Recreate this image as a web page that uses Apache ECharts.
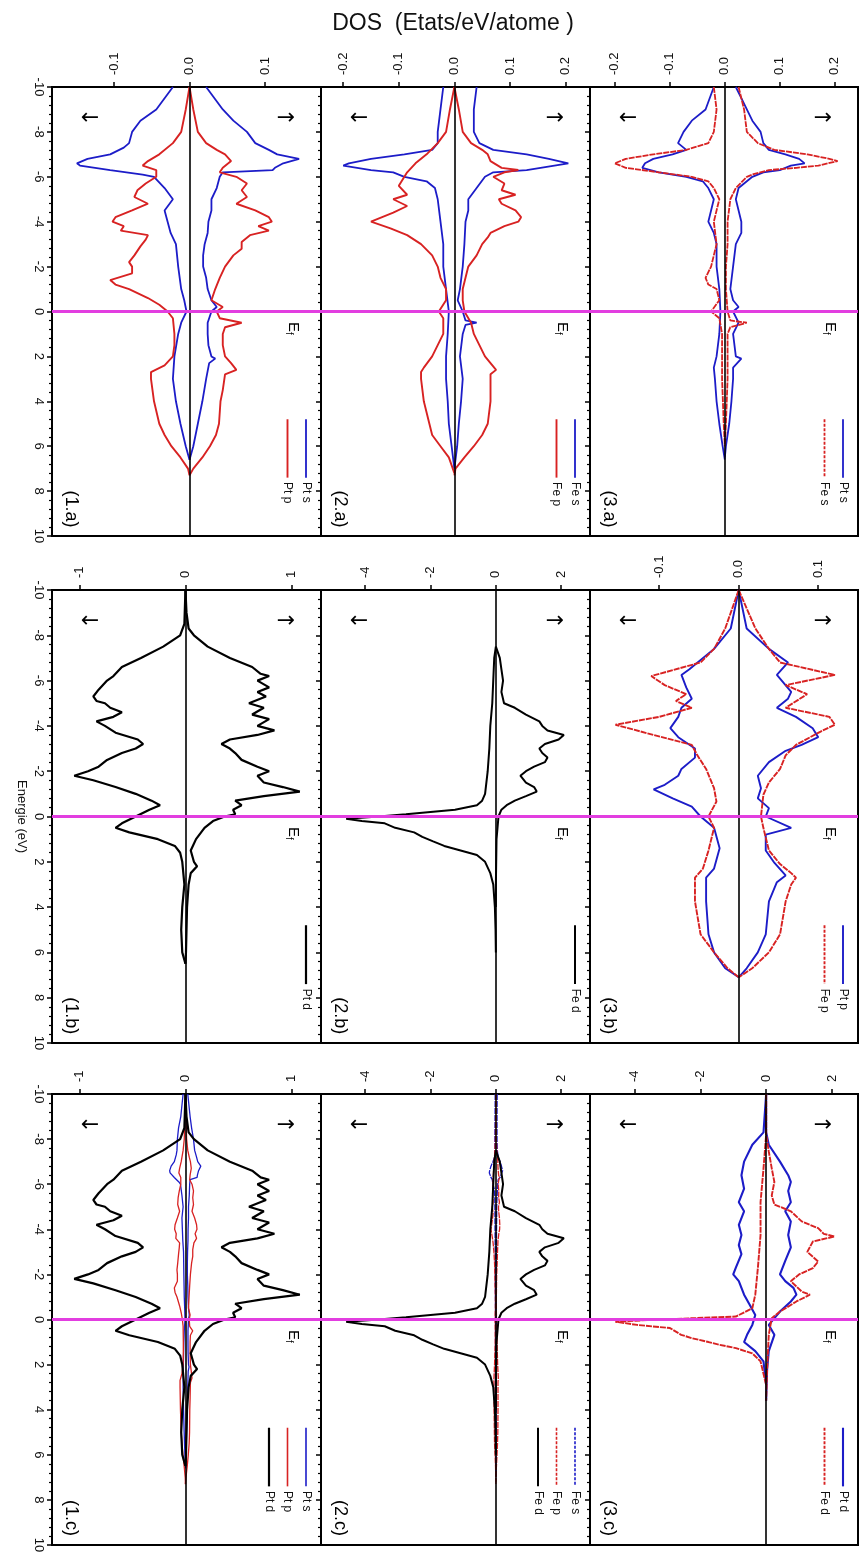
<!DOCTYPE html>
<html><head><meta charset="utf-8">
<script src="https://cdn.jsdelivr.net/npm/echarts@6/dist/echarts.min.js"></script>
<style>html,body{margin:0;padding:0;background:#fff}#c{width:861px;height:1556px}</style>
</head><body><div id="c"></div>
<script>
// ---------------- DATA: [energy (eV), DOS] pairs ----------------
// Panel 1 : Pt
const PT1_S_UP = [[-10,0.022],[-9,0.044],[-8.5,0.058],[-8,0.076],[-7.5,0.087],[-7.2,0.105],[-7,0.116],[-6.8,0.145],[-6.6,0.124],[-6.4,0.113],[-6.3,0.11],[-6.2,0.044],[-6,0.04],[-5.5,0.036],[-5,0.029],[-4.5,0.029],[-4,0.025],[-3.5,0.024],[-3,0.02],[-2.5,0.018],[-2,0.018],[-1.5,0.022],[-1,0.024],[-0.5,0.029],[-0.2,0.036],[0,0.029],[0.5,0.024],[1,0.024],[1.5,0.025],[2,0.029],[2.1,0.034],[2.3,0.026],[3,0.022],[4,0.017],[5,0.011],[6,0.005],[6.6,0]];
const PT1_S_DN = [[-10,-0.022],[-9,-0.044],[-8.5,-0.065],[-8,-0.076],[-7.5,-0.08],[-7.3,-0.087],[-7,-0.105],[-6.8,-0.135],[-6.6,-0.149],[-6.5,-0.145],[-6.3,-0.105],[-6.1,-0.062],[-6,-0.047],[-5.5,-0.033],[-5,-0.022],[-4.5,-0.033],[-4,-0.029],[-3.5,-0.025],[-3,-0.018],[-2,-0.015],[-1,-0.011],[-0.5,-0.007],[0,-0.004],[0.5,-0.011],[1,-0.015],[2,-0.02],[3,-0.022],[4,-0.018],[5,-0.012],[6,-0.005],[6.6,0]];
const PT1_P_UP = [[-10,0],[-9,0.005],[-8,0.011],[-7.5,0.022],[-7.2,0.036],[-7,0.047],[-6.7,0.055],[-6.4,0.044],[-6.2,0.04],[-6,0.062],[-5.7,0.076],[-5.4,0.069],[-5.1,0.076],[-4.8,0.062],[-4.5,0.087],[-4.2,0.105],[-4,0.109],[-3.8,0.091],[-3.6,0.105],[-3.4,0.08],[-3.1,0.069],[-2.8,0.069],[-2.5,0.058],[-2,0.047],[-1.5,0.04],[-1,0.034],[-0.5,0.029],[-0.2,0.044],[0,0.036],[0.3,0.04],[0.5,0.069],[0.7,0.047],[1,0.044],[1.5,0.044],[2,0.047],[2.3,0.055],[2.6,0.062],[2.8,0.047],[3.5,0.044],[4,0.041],[5,0.039],[5.5,0.035],[6,0.027],[6.5,0.017],[7,0.005],[7.3,0]];
const PT1_P_DN = [[-10,0],[-9,-0.005],[-8,-0.011],[-7.5,-0.022],[-7,-0.04],[-6.7,-0.055],[-6.5,-0.062],[-6.3,-0.044],[-6,-0.044],[-5.7,-0.058],[-5.4,-0.069],[-5.1,-0.073],[-4.8,-0.055],[-4.5,-0.076],[-4.2,-0.098],[-4,-0.102],[-3.8,-0.087],[-3.6,-0.091],[-3.4,-0.055],[-3.2,-0.058],[-2.9,-0.065],[-2.5,-0.073],[-2.2,-0.08],[-2,-0.076],[-1.7,-0.076],[-1.4,-0.105],[-1.2,-0.098],[-1,-0.08],[-0.6,-0.055],[-0.3,-0.04],[0,-0.029],[0.3,-0.022],[1,-0.02],[1.5,-0.02],[2,-0.022],[2.4,-0.033],[2.7,-0.051],[3,-0.051],[4,-0.047],[5,-0.04],[5.5,-0.033],[6,-0.024],[6.5,-0.012],[7,-0.002],[7.3,0]];
const PT1_D_UP = [[-10,0],[-9,0.01],[-8.3,0.03],[-8,0.08],[-7.5,0.21],[-7,0.42],[-6.6,0.63],[-6.3,0.71],[-6.2,0.79],[-6,0.68],[-5.7,0.79],[-5.5,0.68],[-5.3,0.76],[-5,0.6],[-4.8,0.74],[-4.5,0.63],[-4.3,0.79],[-4,0.68],[-3.8,0.84],[-3.6,0.68],[-3.4,0.42],[-3.2,0.34],[-3,0.42],[-2.8,0.47],[-2.5,0.53],[-2.2,0.68],[-2,0.79],[-1.8,0.68],[-1.5,0.74],[-1.3,0.92],[-1.1,1.08],[-0.9,0.74],[-0.7,0.47],[-0.5,0.53],[-0.3,0.45],[-0.1,0.47],[0,0.37],[0.2,0.26],[0.5,0.18],[1,0.1],[1.5,0.05],[2,0.08],[2.2,0.11],[2.5,0.05],[3,0.03],[4,0.015],[5,0.01],[6,0.005],[6.5,0]];
const PT1_D_DN = [[-10,0],[-8.5,-0.01],[-8,-0.05],[-7.5,-0.21],[-7,-0.42],[-6.6,-0.6],[-6.2,-0.68],[-6,-0.74],[-5.6,-0.82],[-5.3,-0.87],[-5.1,-0.84],[-5,-0.76],[-4.8,-0.71],[-4.6,-0.6],[-4.4,-0.68],[-4.2,-0.84],[-4,-0.76],[-3.7,-0.66],[-3.4,-0.45],[-3.2,-0.4],[-3,-0.47],[-2.8,-0.6],[-2.5,-0.74],[-2.2,-0.82],[-2,-0.92],[-1.8,-1.05],[-1.6,-0.87],[-1.3,-0.66],[-1,-0.47],[-0.7,-0.32],[-0.5,-0.24],[-0.3,-0.34],[0,-0.47],[0.3,-0.6],[0.5,-0.66],[0.7,-0.53],[1,-0.26],[1.3,-0.1],[1.6,-0.05],[2,-0.03],[3,-0.01],[4,-0.03],[5,-0.04],[6,-0.03],[6.5,0]];
// Panel 2 : Fe
const FE2_S_UP = [[-10,0.04],[-9,0.035],[-8,0.035],[-7.5,0.045],[-7.2,0.07],[-7,0.13],[-6.8,0.17],[-6.6,0.205],[-6.5,0.18],[-6.3,0.13],[-6.2,0.07],[-6,0.055],[-5.5,0.04],[-5,0.025],[-4.5,0.025],[-4,0.02],[-3,0.018],[-2,0.015],[-1,0.01],[-0.5,0.006],[0,0.015],[0.4,0.02],[0.5,0.04],[0.6,0.02],[1,0.015],[2,0.01],[3,0.015],[4,0.012],[5,0.008],[6,0.005],[7,0]];
const FE2_S_DN = [[-10,-0.02],[-9,-0.025],[-8,-0.03],[-7.5,-0.03],[-7.2,-0.04],[-7,-0.09],[-6.8,-0.15],[-6.6,-0.19],[-6.5,-0.2],[-6.3,-0.15],[-6.2,-0.11],[-6,-0.09],[-5.8,-0.05],[-5.5,-0.035],[-5,-0.03],[-4,-0.025],[-3,-0.02],[-2,-0.02],[-1,-0.015],[0,-0.01],[1,-0.012],[2,-0.015],[3,-0.015],[4,-0.012],[5,-0.01],[6,-0.005],[7,0]];
const FE2_P_UP = [[-10,0],[-9,0.008],[-8,0.015],[-7.5,0.03],[-7.2,0.05],[-7,0.06],[-6.7,0.065],[-6.4,0.085],[-6.3,0.115],[-6.2,0.09],[-6,0.07],[-5.7,0.09],[-5.4,0.085],[-5.2,0.11],[-5,0.08],[-4.8,0.085],[-4.5,0.11],[-4.2,0.12],[-4,0.115],[-3.8,0.09],[-3.5,0.065],[-3.3,0.06],[-3,0.05],[-2.5,0.04],[-2,0.025],[-1.5,0.02],[-1,0.015],[-0.5,0.015],[0,0.018],[0.5,0.03],[1,0.035],[1.5,0.045],[2,0.055],[2.3,0.065],[2.6,0.075],[2.8,0.065],[3,0.065],[4,0.065],[5,0.06],[5.5,0.05],[6,0.035],[6.5,0.018],[7,0.002],[7.3,0]];
const FE2_P_DN = [[-10,0],[-9,-0.008],[-8,-0.015],[-7.5,-0.03],[-7,-0.05],[-6.6,-0.07],[-6.2,-0.085],[-6,-0.09],[-5.6,-0.1],[-5.2,-0.085],[-5,-0.11],[-4.7,-0.085],[-4.4,-0.11],[-4.2,-0.13],[-4,-0.15],[-3.7,-0.115],[-3.4,-0.085],[-3,-0.06],[-2.5,-0.04],[-2,-0.03],[-1.5,-0.025],[-1,-0.015],[-0.5,-0.015],[0,-0.028],[0.3,-0.02],[1,-0.02],[1.5,-0.03],[2,-0.04],[2.5,-0.055],[2.7,-0.06],[3,-0.06],[4,-0.055],[5,-0.045],[5.5,-0.04],[6,-0.025],[6.5,-0.01],[7.2,0]];
const FE2_D_UP = [[-7.5,0],[-7,0.12],[-6.5,0.17],[-6,0.22],[-5.5,0.17],[-5,0.25],[-4.8,0.58],[-4.5,0.92],[-4.2,1.33],[-4,1.42],[-3.8,1.58],[-3.6,2.08],[-3.4,1.92],[-3.2,1.5],[-3,1.33],[-2.8,1.42],[-2.6,1.58],[-2.4,1.5],[-2.2,1.17],[-2,0.92],[-1.8,0.75],[-1.5,0.92],[-1.3,1.17],[-1.1,1.25],[-0.9,0.92],[-0.7,0.58],[-0.5,0.33],[-0.3,0.17],[0,0.08],[0.5,0.05],[1,0.02],[2,0.01],[3,0],[4,0]];
const FE2_D_DN = [[-7.5,0],[-7,-0.05],[-6,-0.08],[-5,-0.11],[-4,-0.17],[-3,-0.2],[-2,-0.25],[-1,-0.33],[-0.7,-0.42],[-0.5,-0.58],[-0.3,-1.25],[-0.1,-2.75],[0,-3.58],[0.1,-4.58],[0.2,-4.1],[0.3,-3.4],[0.5,-3.08],[0.7,-2.5],[0.9,-2.25],[1.1,-1.92],[1.3,-1.58],[1.5,-1.08],[1.7,-0.58],[2,-0.33],[2.5,-0.17],[3,-0.08],[4,-0.03],[5,-0.01],[6,0]];
// Panel 3 : FePt
const FP3_PTS_UP = [[-10,0.02],[-9.5,0.03],[-9,0.04],[-8.5,0.05],[-8,0.065],[-7.5,0.07],[-7.2,0.08],[-7,0.11],[-6.8,0.135],[-6.6,0.145],[-6.5,0.12],[-6.3,0.1],[-6.2,0.07],[-6,0.05],[-5.5,0.025],[-5,0.02],[-4.5,0.025],[-4,0.03],[-3.5,0.03],[-3,0.02],[-2,0.015],[-1,0.01],[-0.5,0.015],[-0.2,0.025],[0,0.015],[0.5,0.025],[1,0.015],[2,0.02],[2.1,0.03],[2.5,0.015],[3,0.015],[4,0.012],[5,0.008],[6,0.002],[6.5,0]];
const FP3_PTS_DN = [[-10,-0.02],[-9,-0.035],[-8.5,-0.06],[-8,-0.075],[-7.5,-0.085],[-7.2,-0.07],[-7,-0.095],[-6.8,-0.13],[-6.6,-0.145],[-6.4,-0.15],[-6.2,-0.12],[-6,-0.07],[-5.8,-0.04],[-5.5,-0.03],[-5,-0.02],[-4.5,-0.025],[-4,-0.03],[-3.5,-0.02],[-3,-0.015],[-2,-0.015],[-1,-0.01],[0,-0.008],[1,-0.01],[2,-0.015],[2.5,-0.02],[3,-0.018],[4,-0.015],[5,-0.01],[6,-0.004],[6.6,0]];
const FP3_FES_UP = [[-10,0.025],[-9,0.035],[-8,0.04],[-7.5,0.06],[-7.2,0.09],[-7,0.15],[-6.8,0.19],[-6.7,0.205],[-6.5,0.17],[-6.4,0.13],[-6.3,0.08],[-6.1,0.05],[-6,0.04],[-5.5,0.02],[-5,0.01],[-4,0.005],[-3,0.005],[-2,0.002],[-1,0.002],[0,0.005],[0.4,0.01],[0.5,0.04],[0.7,0.01],[1,0.005],[2,0.005],[3,0.005],[5,0.002],[6,0]];
const FP3_FES_DN = [[-10,-0.02],[-9,-0.015],[-8,-0.02],[-7.5,-0.03],[-7.2,-0.07],[-7,-0.13],[-6.8,-0.18],[-6.6,-0.2],[-6.4,-0.18],[-6.2,-0.12],[-6,-0.06],[-5.8,-0.03],[-5.5,-0.02],[-5,-0.01],[-4,-0.02],[-3,-0.015],[-2,-0.025],[-1.5,-0.035],[-1.2,-0.03],[-1,-0.015],[-0.5,-0.01],[0,-0.025],[0.3,-0.01],[1,-0.005],[2,-0.005],[3,-0.005],[5,-0.002],[6,0]];
const FP3_PTP_UP = [[-10,0],[-8.3,0.01],[-7.4,0.038],[-6.8,0.062],[-6.25,0.048],[-5.5,0.066],[-5.2,0.062],[-4.8,0.048],[-4.4,0.072],[-3.9,0.093],[-3.5,0.1],[-3.16,0.079],[-2.9,0.059],[-2.4,0.038],[-1.8,0.024],[-1.25,0.028],[-0.8,0.024],[-0.37,0.038],[0,0.034],[0.5,0.066],[0.8,0.034],[1.5,0.034],[2.05,0.045],[2.6,0.059],[2.9,0.048],[3.75,0.038],[5.2,0.034],[6,0.024],[6.7,0.01],[7.1,0]];
const FP3_PTP_DN = [[-10,0],[-8.3,-0.01],[-7.4,-0.031],[-6.5,-0.062],[-6.25,-0.072],[-5.7,-0.066],[-5.2,-0.059],[-4.8,-0.072],[-4.4,-0.076],[-3.9,-0.086],[-3.5,-0.076],[-3,-0.055],[-2.6,-0.055],[-2.1,-0.072],[-1.8,-0.076],[-1.4,-0.093],[-1.2,-0.107],[-0.8,-0.083],[-0.44,-0.059],[0,-0.048],[0.5,-0.031],[1.4,-0.024],[2.3,-0.031],[2.7,-0.041],[3.75,-0.041],[5.2,-0.038],[6,-0.031],[6.7,-0.017],[7.1,0]];
const FP3_FEP_UP = [[-10,0],[-8.3,0.021],[-7.4,0.038],[-6.8,0.052],[-6.25,0.121],[-5.8,0.059],[-5.4,0.086],[-4.8,0.059],[-4.4,0.114],[-4.05,0.121],[-3.75,0.103],[-3.16,0.072],[-2.7,0.059],[-2.1,0.052],[-1.5,0.038],[-0.96,0.031],[0,0.028],[0.5,0.031],[1.5,0.038],[2.1,0.052],[2.5,0.066],[2.7,0.072],[3,0.066],[3.75,0.059],[5.2,0.052],[6,0.038],[6.7,0.017],[7.1,0]];
const FP3_FEP_DN = [[-10,0],[-8.3,-0.017],[-7.4,-0.031],[-6.8,-0.048],[-6.2,-0.11],[-5.8,-0.093],[-5.4,-0.066],[-5.1,-0.079],[-4.8,-0.059],[-4.4,-0.1],[-4.05,-0.155],[-3.6,-0.107],[-3.16,-0.059],[-2.7,-0.052],[-2.1,-0.041],[-1.25,-0.031],[-0.66,-0.028],[0,-0.038],[0.5,-0.031],[1.5,-0.038],[2.3,-0.045],[2.7,-0.055],[3.75,-0.055],[5.2,-0.048],[6,-0.031],[6.7,-0.014],[7.1,0]];
const FP3_PTD_UP = [[-10,0],[-8.3,0],[-7.75,0.08],[-7,0.42],[-6.4,0.67],[-6.1,0.75],[-5.7,0.67],[-5.2,0.75],[-4.8,0.58],[-4.35,0.75],[-3.75,0.67],[-3.2,0.75],[-2.6,0.58],[-2,0.42],[-1.7,0.58],[-1.4,0.83],[-1.1,0.92],[-0.8,0.75],[-0.35,0.42],[0.24,0.08],[0.68,0.25],[1.4,0.08],[2.2,0.03],[3.6,0]];
const FP3_PTD_DN = [[-10,0],[-8.3,-0.08],[-7.75,-0.42],[-7,-0.67],[-6.4,-0.75],[-5.8,-0.67],[-5.2,-0.83],[-4.8,-0.67],[-4.2,-0.83],[-3.75,-0.75],[-3.3,-0.83],[-2.9,-0.75],[-2.3,-0.92],[-2,-1.0],[-1.7,-0.83],[-1.1,-0.67],[-0.65,-0.5],[-0.2,-0.33],[0.24,-0.42],[0.68,-0.58],[1,-0.67],[1.4,-0.33],[1.86,-0.08],[2.9,0]];
const FP3_FED_UP = [[-10,0],[-8.2,0],[-7.45,0.08],[-6.7,0.17],[-6.1,0.25],[-5.5,0.17],[-5.1,0.25],[-4.8,0.75],[-4.35,1.08],[-4.05,1.58],[-3.8,1.75],[-3.68,2.08],[-3.46,1.42],[-3,1.25],[-2.57,1.58],[-2.28,1.42],[-2,1.0],[-1.7,0.75],[-1.24,1.08],[-1.1,1.33],[-0.8,0.92],[-0.35,0.42],[-0.06,0.17],[0.68,0.08],[2.2,0.03],[3.6,0]];
const FP3_FED_DN = [[-10,0],[-8.2,0],[-6.7,-0.08],[-5.2,-0.17],[-3.75,-0.17],[-2.3,-0.25],[-1.1,-0.33],[-0.5,-0.42],[-0.13,-0.92],[0,-3.25],[0.1,-4.58],[0.24,-3.92],[0.38,-2.92],[0.68,-2.58],[0.83,-2.25],[1,-1.75],[1.12,-1.42],[1.27,-0.92],[1.5,-0.42],[1.86,-0.17],[2.9,0]];

// axes
const E_MIN = -10, E_MAX = 10, E_STEP = 2, EF = 0;
const X_MIN = [[-0.182,-0.24,-0.245],[-1.26,-5.35,-0.187],[-1.26,-5.35,-5.35]];
const X_MAX = [[0.174,0.244,0.242],[1.28,2.88,0.15],[1.28,2.88,2.79]];
const X_TICKS = [[[-0.1,0,0.1],[-0.2,-0.1,0,0.1,0.2],[-0.2,-0.1,0,0.1,0.2]],
                 [[-1,0,1],[-4,-2,0,2],[-0.1,0,0.1]],
                 [[-1,0,1],[-4,-2,0,2],[-4,-2,0,2]]];
const X_DEC = [[1,1,1],[0,0,1],[0,0,0]];
const PANEL_TAGS = [['(1.a)','(2.a)','(3.a)'],['(1.b)','(2.b)','(3.b)'],['(1.c)','(2.c)','(3.c)']];
const LEGENDS = [[['Pt s','Pt p'],['Fe s','Fe p'],['Pt s','Fe s']],
                 [['Pt d'],['Fe d'],['Pt p','Fe p']],
                 [['Pt s','Pt p','Pt d'],['Fe s','Fe p','Fe d'],['Pt d','Fe d']]];
const TITLE = 'DOS  (Etats/eV/atome )';
const XNAME = 'Energie (eV)';

// ---------------- LAYOUT / STYLE ----------------
const COL_TOP = [87, 590, 1094], COL_H = [449, 453, 451];
const PAN_L = [52, 321, 590], PAN_W = [269, 269, 268];
const BLUE = '#1c1cc8', RED = '#d82222', BLACK = '#000', MAG = '#e23ee0';
const FONT = 'Liberation Sans, Arial, sans-serif';
const DOT = [6, 1];

// curves per panel [c][p]: [upData, dnData, color, width, dash]
const CURVES = [
  [ [[PT1_S_UP,PT1_S_DN,BLUE,1.8],[PT1_P_UP,PT1_P_DN,RED,1.9]],
    [[FE2_S_UP,FE2_S_DN,BLUE,1.8],[FE2_P_UP,FE2_P_DN,RED,1.9]],
    [[FP3_PTS_UP,FP3_PTS_DN,BLUE,1.8],[FP3_FES_UP,FP3_FES_DN,RED,1.8,DOT]] ],
  [ [[PT1_D_UP,PT1_D_DN,BLACK,2.2]],
    [[FE2_D_UP,FE2_D_DN,BLACK,2]],
    [[FP3_PTP_UP,FP3_PTP_DN,BLUE,1.9],[FP3_FEP_UP,FP3_FEP_DN,RED,1.9,DOT]] ],
  [ [[PT1_S_UP,PT1_S_DN,BLUE,1.3],[PT1_P_UP,PT1_P_DN,RED,1.3],[PT1_D_UP,PT1_D_DN,BLACK,2.2]],
    [[FE2_S_UP,FE2_S_DN,BLUE,1.3,DOT],[FE2_P_UP,FE2_P_DN,RED,1.3,DOT],[FE2_D_UP,FE2_D_DN,BLACK,2]],
    [[FP3_PTD_UP,FP3_PTD_DN,BLUE,2.1],[FP3_FED_UP,FP3_FED_DN,RED,1.9,DOT]] ]
];

const grids = [], xAxes = [], yAxes = [], series = [], graphics = [];
function yOf(c, e) { return COL_TOP[c] + (e - E_MIN) / (E_MAX - E_MIN) * COL_H[c]; }

for (let c = 0; c < 3; c++) {
  for (let p = 0; p < 3; p++) {
    const gi = c * 3 + p;
    grids.push({ left: PAN_L[p], top: COL_TOP[c], width: PAN_W[p], height: COL_H[c],
      show: true, borderColor: '#000', borderWidth: 2, backgroundColor: 'transparent',
      containLabel: false, outerBoundsMode: 'none' });
    const dec = X_DEC[c][p];
    xAxes.push({ gridIndex: gi, type: 'value', position: 'top', min: X_MIN[c][p], max: X_MAX[c][p],
      axisLine: { show: true, onZero: false, lineStyle: { color: '#000', width: 2 } },
      axisTick: { show: true, customValues: X_TICKS[c][p], length: 5, lineStyle: { color: '#000', width: 1.5 } },
      axisLabel: { show: true, customValues: X_TICKS[c][p], rotate: -90, margin: 12, fontSize: 13,
        color: '#111', fontFamily: FONT, formatter: v => dec ? v.toFixed(1) : String(Math.round(v)) },
      splitLine: { show: false } });
    yAxes.push({ gridIndex: gi, type: 'value', min: E_MIN, max: E_MAX, interval: E_STEP, inverse: true, position: 'left',
      axisLine: { show: true, onZero: false, lineStyle: { color: '#000', width: 2 } },
      axisTick: { show: true, length: 5, lineStyle: { color: '#000', width: 1.5 } },
      minorTick: { show: true, splitNumber: 5, length: 3, lineStyle: { color: '#000', width: 1.2 } },
      axisLabel: { show: p === 0, rotate: -90, margin: 7, fontSize: 13, color: '#111', fontFamily: FONT },
      splitLine: { show: false }, minorSplitLine: { show: false } });

    // zero line
    series.push({ type: 'line', xAxisIndex: gi, yAxisIndex: gi, data: [], silent: true, z: 1,
      markLine: { silent: true, symbol: ['none', 'none'], label: { show: false }, animation: false,
        lineStyle: { color: '#000', width: 1.6, type: 'solid' }, data: [{ xAxis: 0 }] } });
    // curves
    CURVES[c][p].forEach(cv => {
      [cv[0], cv[1]].forEach(arr => {
        series.push({ type: 'line', xAxisIndex: gi, yAxisIndex: gi, silent: true, z: 2,
          data: arr.map(d => [d[1], d[0]]), showSymbol: false, symbol: 'none',
          lineStyle: { color: cv[2], width: cv[3], type: cv[4] || 'solid' } });
      });
    });
    // Fermi level
    series.push({ type: 'line', xAxisIndex: gi, yAxisIndex: gi, data: [], silent: true, z: 5,
      markLine: { silent: true, symbol: ['none', 'none'], label: { show: false }, animation: false,
        lineStyle: { color: MAG, width: 3, type: 'solid' }, data: [{ yAxis: EF }] } });

    // annotations
    const L = PAN_L[p], R = PAN_L[p] + PAN_W[p];
    graphics.push({ type: 'text', x: R - 35, y: yOf(c, -8.6), z: 10,
      style: { text: '\u2192', fontSize: 22, fontFamily: 'DejaVu Sans', fill: '#000', align: 'center', verticalAlign: 'middle' } });
    graphics.push({ type: 'text', x: L + 38, y: yOf(c, -8.6), z: 10,
      style: { text: '\u2190', fontSize: 22, fontFamily: 'DejaVu Sans', fill: '#000', align: 'center', verticalAlign: 'middle' } });
    graphics.push({ type: 'text', x: R - 28, y: yOf(c, 0.75), rotation: -Math.PI / 2, z: 10,
      style: { text: '{e|E}{f|f}', align: 'center', verticalAlign: 'middle', fill: '#000', fontFamily: FONT,
        rich: { e: { fontSize: 15, fontFamily: FONT, lineHeight: 18 }, f: { fontSize: 10, fontFamily: FONT, lineHeight: 18, verticalAlign: 'bottom', padding: [6, 0, 0, 0] } } } });
    graphics.push({ type: 'text', x: L + 19, y: yOf(c, 8.8), rotation: -Math.PI / 2, z: 10,
      style: { text: PANEL_TAGS[c][p], fontSize: 18, fontFamily: FONT, fill: '#000', align: 'center', verticalAlign: 'middle' } });
    LEGENDS[c][p].forEach((name, i) => {
      const lx = R - 15 - 18.5 * i;
      const cv = CURVES[c][p][i];
      graphics.push({ type: 'line', z: 10, shape: { x1: lx, y1: yOf(c, 4.8), x2: lx, y2: yOf(c, 7.4) },
        style: { stroke: cv[2], lineWidth: Math.max(1.6, cv[3]), lineDash: cv[4] ? [3, 1.5] : null } });
      graphics.push({ type: 'text', x: lx, y: yOf(c, 7.6), rotation: -Math.PI / 2, z: 10,
        style: { text: name, fontSize: 12, fontFamily: FONT, fill: '#111', align: 'left', verticalAlign: 'middle' } });
    });
  }
}
graphics.push({ type: 'text', x: 453, y: 24, z: 10,
  style: { text: TITLE, fontSize: 23, fontFamily: FONT, fill: '#111', align: 'center', verticalAlign: 'middle' } });
graphics.push({ type: 'text', x: 22, y: (COL_TOP[1] + COL_H[1] / 2), rotation: -Math.PI / 2, z: 10,
  style: { text: XNAME, fontSize: 13, fontFamily: FONT, fill: '#111', align: 'center', verticalAlign: 'middle' } });

const chart = echarts.init(document.getElementById('c'), null, { renderer: 'canvas' });
chart.setOption({ animation: false, backgroundColor: '#fff', grid: grids, xAxis: xAxes, yAxis: yAxes, series: series, graphic: graphics });
</script></body></html>
